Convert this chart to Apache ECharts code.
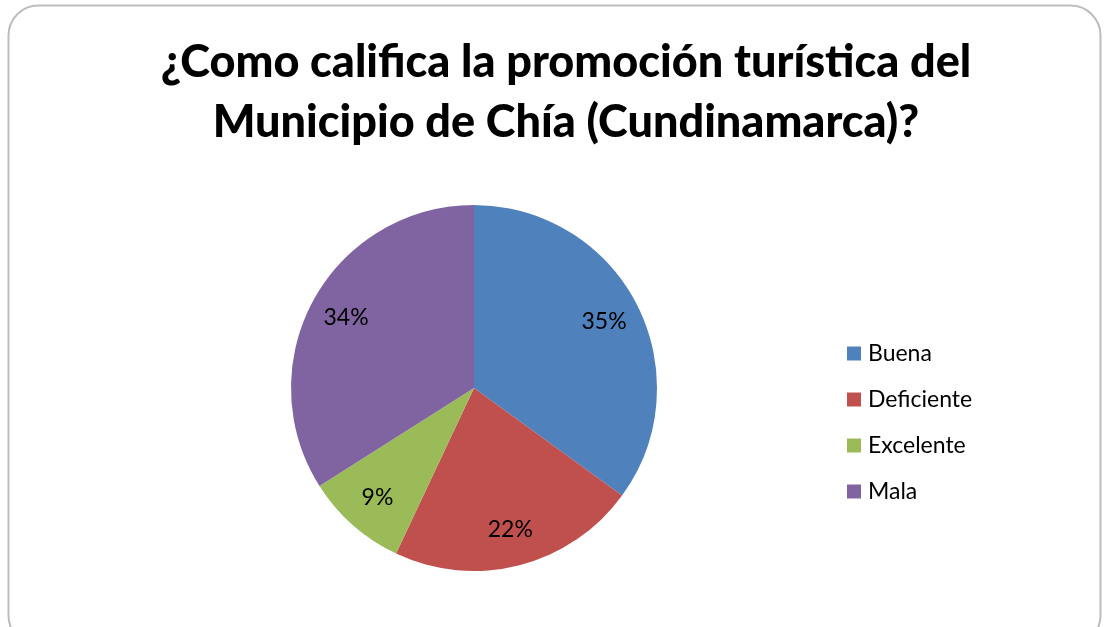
<!DOCTYPE html>
<html>
<head>
<meta charset="utf-8">
<script src="https://cdn.jsdelivr.net/npm/echarts@6/dist/echarts.min.js"></script>
<style>
  html, body { margin: 0; padding: 0; background: #fff; }
  #chart { width: 1106px; height: 627px; }
</style>
</head>
<body>
<div id="chart"></div>
<script>
var categories = ["Buena", "Deficiente", "Excelente", "Mala"];
var values = [35, 22, 9, 34];
var colors = ["#4F81BD", "#C0504D", "#9BBB59", "#8064A2"];

var pieData = categories.map(function (name, i) {
  return { name: name, value: values[i], itemStyle: { color: colors[i] } };
});

var chart = echarts.init(document.getElementById("chart"));
var center = [474, 388];

var option = {
  animation: false,
  title: {
    text: "¿Como califica la promoción turística del\nMunicipio de Chía (Cundinamarca)?",
    left: 561,
    top: 27,
    textAlign: "center",
    textStyle: {
      fontFamily: "Lato",
      fontWeight: 900,
      fontSize: 45,
      lineHeight: 60,
      color: "#000"
    }
  },
  graphic: [
    {
      type: "rect",
      shape: { x: 8.5, y: 5.5, width: 1092, height: 640, r: 30 },
      style: { fill: "none", stroke: "#bdbdbd", lineWidth: 2 },
      silent: true,
      z: -10
    }
  ],
  legend: {
    orient: "vertical",
    left: 842,
    top: 337,
    itemWidth: 14,
    itemHeight: 14,
    itemGap: 23,
    icon: "rect",
    data: categories,
    textStyle: { fontFamily: "Lato", fontSize: 23, color: "#000", padding: [0, 0, 0, 2] }
  },
  series: [
    {
      type: "pie",
      center: center,
      radius: [0, 183],
      startAngle: 90,
      clockwise: true,
      data: pieData,
      label: { show: false },
      labelLine: { show: false },
      itemStyle: { borderWidth: 0 },
      emphasis: { disabled: true }
    },
    {
      type: "pie",
      center: center,
      radius: [0, 286],
      startAngle: 90,
      clockwise: true,
      silent: true,
      legendHoverLink: false,
      data: categories.map(function (name, i) {
        return { name: name + " ", value: values[i] };
      }),
      itemStyle: { color: "rgba(0,0,0,0)" },
      label: {
        show: true,
        position: "inside",
        formatter: "{c}%",
        fontFamily: "Lato",
        fontSize: 23,
        color: "#000"
      },
      labelLine: { show: false },
      emphasis: { disabled: true },
      z: 5
    }
  ]
};

chart.setOption(option);
</script>
</body>
</html>
